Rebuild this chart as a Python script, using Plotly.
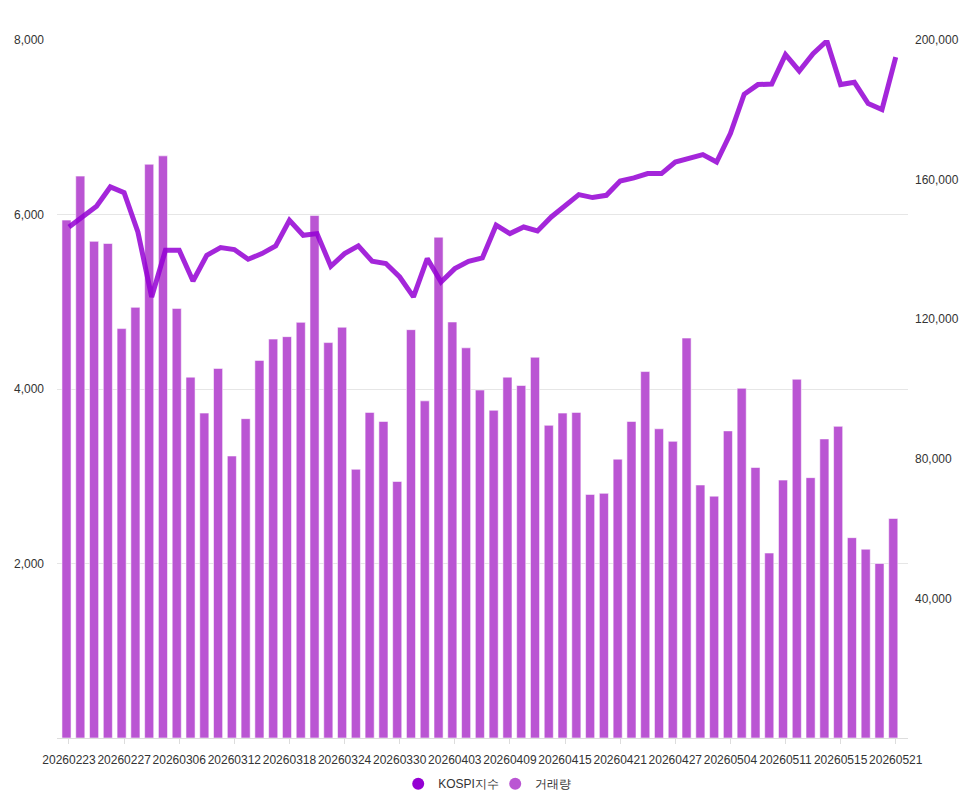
import plotly.graph_objects as go

dates = [
    "20260223", "20260224", "20260225", "20260226", "20260227",
    "20260303", "20260304", "20260305", "20260306", "20260309",
    "20260310", "20260311", "20260312", "20260313", "20260316",
    "20260317", "20260318", "20260319", "20260320", "20260323",
    "20260324", "20260325", "20260326", "20260327", "20260330",
    "20260331", "20260401", "20260402", "20260403", "20260406",
    "20260407", "20260408", "20260409", "20260410", "20260413",
    "20260414", "20260415", "20260416", "20260417", "20260420",
    "20260421", "20260422", "20260423", "20260424", "20260427",
    "20260428", "20260429", "20260430", "20260504", "20260506",
    "20260507", "20260508", "20260511", "20260512", "20260513",
    "20260514", "20260515", "20260518", "20260519", "20260520",
    "20260521",
]

kospi = [
    5857, 5980, 6094, 6316, 6251, 5800, 5055, 5590, 5590, 5238,
    5533, 5621, 5598, 5487, 5552, 5640, 5934, 5762, 5781, 5407,
    5552, 5640, 5464, 5438, 5284, 5055, 5495, 5227, 5380, 5464,
    5502, 5877, 5781, 5857, 5811, 5972, 6098, 6228, 6194, 6220,
    6384, 6419, 6469, 6469, 6602, 6641, 6687, 6602, 6928, 7378,
    7489, 7496, 7833, 7645, 7844, 7989, 7489, 7515, 7271, 7203,
    7805,
]

volume = [
    148400, 161000, 142300, 141700, 117300, 123400, 164400, 166800, 123100, 103400,
    93100, 105900, 80800, 91500, 108200, 114300, 115000, 119100, 149700, 113300,
    117700, 77000, 93300, 90700, 73500, 117000, 96600, 143500, 119200, 111800,
    99700, 93900, 103400, 101000, 109100, 89600, 93100, 93300, 69800, 70100,
    79900, 90700, 105000, 88600, 85000, 114600, 72500, 69300, 88000, 100200,
    77500, 53000, 73900, 102800, 74600, 85700, 89300, 57400, 54100, 50000,
    62900,
]

tick_dates = dates[::4]
left_ticks = [2000, 4000, 6000, 8000]
right_ticks = [40000, 80000, 120000, 160000, 200000]

LINE_COLOR = "#9400D3"
BAR_COLOR = "#BA55D3"
FONT = "Liberation Sans, Arial, sans-serif"

fig = go.Figure()

fig.add_trace(go.Bar(
    x=dates, y=volume, name="거래량", yaxis="y",
    marker=dict(color=BAR_COLOR, line=dict(color="rgba(255,255,255,0.55)", width=1)),
    width=0.66, offset=-0.51, showlegend=False,
))

fig.add_trace(go.Scatter(
    x=dates, y=kospi, name="KOSPI지수", yaxis="y2", mode="lines",
    line=dict(color="rgba(148,0,211,0.85)", width=5),
    showlegend=False,
))

fig.add_trace(go.Scatter(
    x=[None], y=[None], mode="markers", name="KOSPI지수",
    marker=dict(color=LINE_COLOR, size=12, symbol="circle"),
))
fig.add_trace(go.Scatter(
    x=[None], y=[None], mode="markers", name="거래량",
    marker=dict(color=BAR_COLOR, size=12, symbol="circle"),
))

fig.update_layout(
    width=971, height=798,
    margin=dict(l=57, r=63, t=40, b=60, autoexpand=False),
    paper_bgcolor="white", plot_bgcolor="white",
    font=dict(family=FONT, size=12, color="#333333"),
    bargap=0.35,
    xaxis=dict(
        type="category", categoryorder="array", categoryarray=dates,
        range=[-0.87, 60.89], automargin=False,
        tickmode="array", tickvals=tick_dates, ticktext=tick_dates,
        ticks="outside", ticklen=5, tickcolor="#dddddd",
        showline=True, linecolor="#dddddd", linewidth=1,
        showgrid=False, zeroline=False, tickangle=0,
        ticklabelstandoff=6,
        tickfont=dict(size=12, color="#333333"),
    ),
    yaxis=dict(
        side="right", range=[0, 200000], automargin=False,
        tickmode="array", tickvals=right_ticks,
        tickformat=",d", showgrid=False, zeroline=False,
        showline=False, ticks="", ticklabelstandoff=6,
        tickfont=dict(size=12, color="#333333"),
    ),
    yaxis2=dict(
        side="left", overlaying="y", range=[0, 8000], automargin=False,
        tickmode="array", tickvals=left_ticks,
        tickformat=",d", showgrid=True, gridcolor="#e6e6e6", gridwidth=1,
        zeroline=False, showline=False, ticks="", ticklabelstandoff=12,
        tickfont=dict(size=12, color="#333333"),
    ),
    legend=dict(
        orientation="h", xref="container", yref="container",
        x=0.51, xanchor="center", y=0.018, yanchor="middle",
        font=dict(size=12, color="#333333"),
        itemwidth=30, tracegroupgap=0, entrywidth=52,
    ),
    hovermode=False,
)

fig.write_html("out.html")
